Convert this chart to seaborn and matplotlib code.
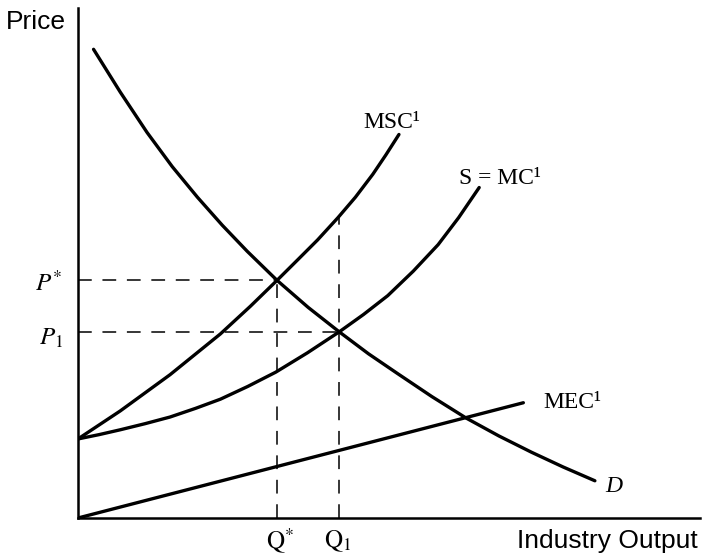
import matplotlib
matplotlib.use("Agg")
import matplotlib.pyplot as plt
import seaborn as sns
import numpy as np
import pandas as pd

# ---- data (arbitrary units 0-100) ----
d_x = [2.5, 6.8, 11.1, 15.15, 19.2, 23.2, 27.2, 32.0, 37.0, 42.0, 46.7,
       51.4, 56.9, 62.4, 67.65, 72.9, 78.0, 83.1]
d_y = [91.9, 83.5, 75.6, 68.9, 62.9, 57.4, 52.3, 46.6, 41.3, 36.5, 32.2,
       28.3, 23.8, 19.6, 16.1, 12.9, 10.0, 7.3]

msc_x = [0.0, 6.8, 14.8, 22.9, 27.7, 32.0, 35.3, 38.5, 41.8, 44.6, 47.4,
         49.5, 51.6]
msc_y = [15.5, 21.0, 28.1, 36.1, 41.5, 46.6, 50.6, 54.5, 58.9, 62.9, 67.4,
         71.2, 75.2]

mc_x = [0.0, 3.4, 6.8, 10.8, 14.8, 18.9, 22.9, 27.3, 31.8, 36.9, 42.0,
        45.9, 49.8, 53.9, 57.9, 61.2, 64.5]
mc_y = [15.5, 16.35, 17.3, 18.5, 19.8, 21.5, 23.3, 25.8, 28.6, 32.4, 36.5,
        39.9, 43.6, 48.4, 53.6, 58.9, 64.8]

mec_x = [0.0, 71.6]
mec_y = [0.0, 22.6]

q_star, p_star = 32.0, 46.6
q_one, p_one = 42.0, 36.5
msc_at_q1 = 58.9

curve_labels = ["MSC\u00b9", "S = MC\u00b9", "MEC\u00b9", "D"]
axis_labels = ["Price", "Industry Output"]

# ---- figure ----
W, H = 708, 556
fig = plt.figure(figsize=(W / 100, H / 100), dpi=100)
sns.set_style("white")
plt.rcParams["mathtext.fontset"] = "stix"
plt.rcParams["text.color"] = "black"

ax = fig.add_axes([78 / W, (H - 518) / H, 622 / W, 510 / H])
ax.set_xlim(0, 100)
ax.set_ylim(0, 100)

lw = 2.4
for xs, ys in [(d_x, d_y), (msc_x, msc_y), (mc_x, mc_y), (mec_x, mec_y)]:
    sns.lineplot(x=xs, y=ys, ax=ax, color="black", linewidth=lw,
                 estimator=None, sort=False, solid_capstyle="round",
                 solid_joinstyle="round")

dash_kw = dict(color="black", linewidth=1.1, dashes=[9, 7])
ax.plot([0, q_star], [p_star, p_star], **dash_kw)
ax.plot([0, q_one], [p_one, p_one], **dash_kw)
ax.plot([q_star, q_star], [0, p_star], **dash_kw)
ax.plot([q_one, q_one], [0, msc_at_q1], **dash_kw)

for s in ["top", "right"]:
    ax.spines[s].set_visible(False)
for s in ["left", "bottom"]:
    ax.spines[s].set_color("black")
    ax.spines[s].set_linewidth(1.8)
ax.set_xticks([])
ax.set_yticks([])

serif = "Liberation Serif"
def px(xp, yp):
    return xp / W, 1 - yp / H

tk = dict(color="black", ha="center", va="center")
fig.text(*px(392, 122), curve_labels[0], fontsize=17, family=serif, **tk)
fig.text(*px(500, 178), curve_labels[1], fontsize=17, family=serif, **tk)
fig.text(*px(572, 403), curve_labels[2], fontsize=17, family=serif, **tk)
fig.text(*px(614, 486), curve_labels[3], fontsize=17, family=serif,
         style="italic", **tk)

fig.text(*px(49, 283), r"$P^{*}$", fontsize=18, **tk)
fig.text(*px(51, 338), r"$P_{1}$", fontsize=18, **tk)
fig.text(*px(280, 541), r"$\mathrm{Q}^{*}$", fontsize=18, **tk)
fig.text(*px(338, 541), r"$\mathrm{Q}_{1}$", fontsize=18, **tk)

fig.text(*px(36, 22), axis_labels[0], fontsize=19, family="Liberation Sans", **tk)
fig.text(*px(607, 541), axis_labels[1], fontsize=19, family="Liberation Sans", **tk)

fig.savefig("out.png", dpi=100, facecolor="white")
